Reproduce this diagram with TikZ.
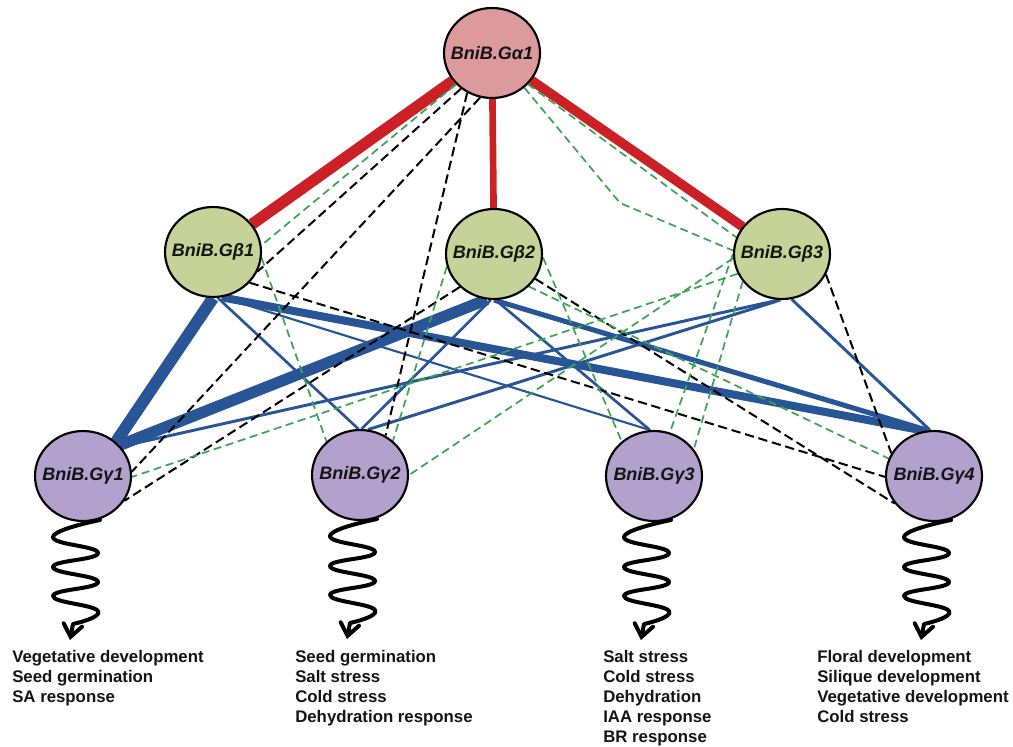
\documentclass[tikz,border=0pt]{standalone}
\usepackage{fontspec}
\setmainfont{Liberation Sans}
\usetikzlibrary{shapes.geometric,arrows.meta,backgrounds}
\definecolor{apink}{RGB}{221,154,156}
\definecolor{bgreen}{RGB}{198,211,152}
\definecolor{cviolet}{RGB}{177,161,204}
\definecolor{ered}{RGB}{204,32,39}
\definecolor{eblue}{RGB}{40,85,150}
\definecolor{egreen}{RGB}{60,165,85}
\definecolor{txt}{RGB}{20,20,20}
\begin{document}
\begin{tikzpicture}[x=0.75pt,y=-0.75pt,
  gnode/.style={ellipse, draw=black, line width=1.6pt, minimum width=72pt, minimum height=67.5pt, inner sep=0pt, font=\fontsize{13.5}{16}\selectfont\bfseries\itshape, text=txt},
  redge/.style={draw=ered},
  bedge/.style={draw=eblue},
  kedge/.style={draw=black, line width=1.5pt, dash pattern=on 7pt off 3.5pt},
  gedge/.style={draw=egreen, line width=1.3pt, dash pattern=on 6pt off 3.5pt},
  sq/.style={draw=black, line width=3pt, line cap=round, line join=round, -{Straight Barb[length=9pt,width=14pt,line cap=round]}},
  lst/.style={anchor=north west, inner sep=0pt, align=left, text=txt, font=\fontsize{12.6}{15.1}\selectfont\bfseries}]
\useasboundingbox (0,0) rectangle (1013,746);

% nodes
\node[gnode, fill=apink] (a) at (492,53) {\makebox[0pt]{BniB.Gα1}};
\node[gnode, fill=bgreen] (b1) at (213,252) {\makebox[0pt]{BniB.Gβ1}};
\node[gnode, fill=bgreen] (b2) at (494,254) {\makebox[0pt]{BniB.Gβ2}};
\node[gnode, fill=bgreen] (b3) at (782,254) {\makebox[0pt]{BniB.Gβ3}};
\node[gnode, fill=cviolet] (c1) at (83,476) {\makebox[0pt]{BniB.Gγ1}};
\node[gnode, fill=cviolet] (c2) at (360,475) {\makebox[0pt]{BniB.Gγ2}};
\node[gnode, fill=cviolet] (c3) at (654,476) {\makebox[0pt]{BniB.Gγ3}};
\node[gnode, fill=cviolet] (c4) at (934,476) {\makebox[0pt]{BniB.Gγ4}};
\coordinate (bend) at (620,203);

\begin{scope}[on background layer]
% blue
\draw[bedge, line width=9pt] (b1.270) -- (c1.46);
\draw[bedge, line width=8.5pt] (b2.261) -- (c1.40);
\draw[bedge, line width=6pt] (b1.281) -- (c4.102);
\draw[bedge, line width=3.8pt] (b2.270) -- (c4.98);
\draw[bedge, line width=2pt] (b1.276) -- (c2.92);
\draw[bedge, line width=1.6pt] (b1.281) -- (c3.95);
\draw[bedge, line width=2pt] (b2.266) -- (c2.88);
\draw[bedge, line width=2pt] (b2.272) -- (c3.95);
\draw[bedge, line width=2.2pt] (b3.266) -- (c1.38);
\draw[bedge, line width=2.2pt] (b3.268) -- (c2.80);
\draw[bedge, line width=2.2pt] (b3.282) -- (c4.95);
% red
\draw[redge, line width=8.5pt] (a) -- (b1);
\draw[redge, line width=5pt] (a) -- (b2);
\draw[redge, line width=7.2pt] (a) -- (b3);
% black dashed
\draw[kedge] (a.229) -- (b1.336);
\draw[kedge] (a.255) -- (c1.5);
\draw[kedge] (a.238) -- (c2.57);
\draw[kedge] (b1.320) -- (c4.181);
\draw[kedge] (b2.224) -- (c1.329);
\draw[kedge] (b2.329) -- (c4.215);
\draw[kedge] (b3.335) -- (c4.152);
% green dashed
\draw[gedge] (a.221) -- (b1.8);
\draw[gedge] (a.319) -- (b3.160);
\draw[gedge] (a.313) -- (bend) -- (b3.176);
\draw[gedge] (b1.353) -- (c2.135);
\draw[gedge] (b2.356) -- (c3.133);
\draw[gedge] (b2.317) -- (c4.159);
\draw[gedge] (b3.204) -- (c1.359);
\draw[gedge] (b3.185) -- (c2.0);
\draw[gedge] (b3.180) -- (c3.70);
\draw[gedge] (b3.215) -- (c3.34);
\draw[gedge] (b2.195) -- (c2.46);
\end{scope}

% squiggles
\foreach \n in {c1,c2,c3,c4}{
  \begin{scope}[shift={(\n)}]
    \draw[sq] plot[smooth, tension=0.85] coordinates {(17,44) (-30,61) (15,77) (-30,91) (15,106) (-30,120) (15,135) (-10,148)} -- (-13,164);
  \end{scope}
}

% texts
\node[lst] (t1) at (12,650) {Vegetative development\\Seed germination\\SA response};
\node[lst] (t2) at (295,650) {Seed germination\\Salt stress\\Cold stress\\Dehydration response};
\node[lst] (t3) at (603,650) {Salt stress\\Cold stress\\Dehydration\\IAA response\\BR response};
\node[lst] (t4) at (817,650) {Floral development\\Silique development\\Vegetative development\\Cold stress};
\end{tikzpicture}
\end{document}
